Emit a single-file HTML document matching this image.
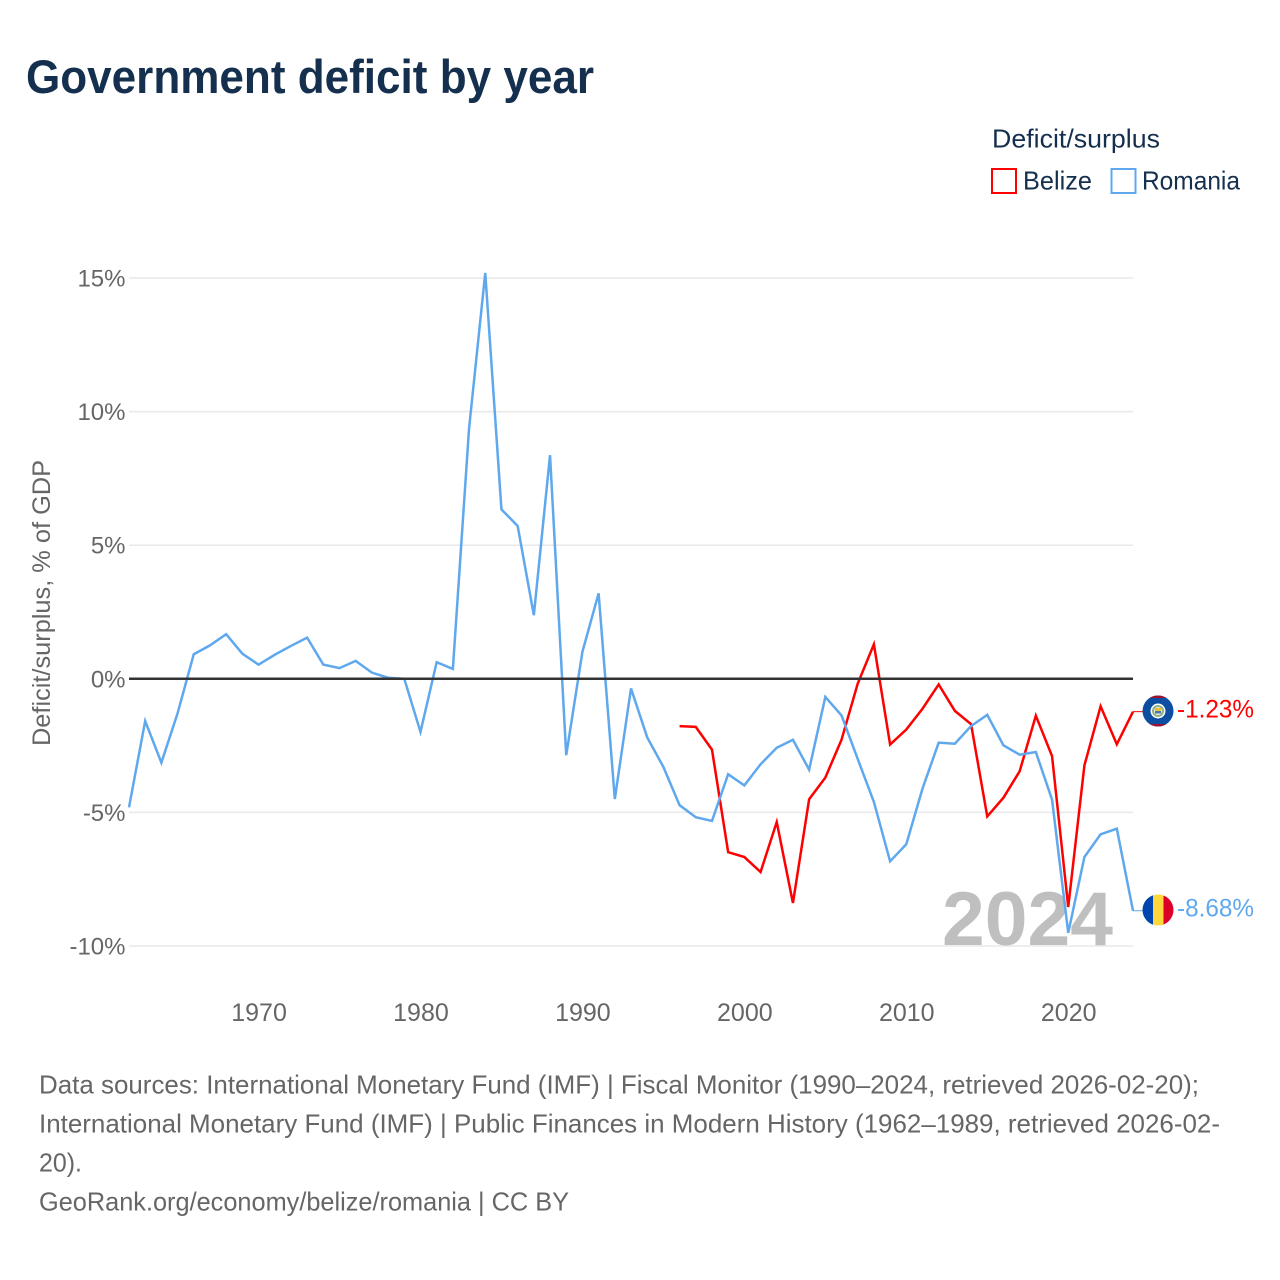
<!DOCTYPE html>
<html lang="en">
<head>
<meta charset="utf-8">
<title>Government deficit by year</title>
<style>
html,body{margin:0;padding:0;background:#fff;}
svg{display:block;font-family:"Liberation Sans",sans-serif;}
</style>
</head>
<body>
<svg id="chart" xmlns="http://www.w3.org/2000/svg" width="1280" height="1280" viewBox="0 0 1280 1280">
  <defs>
    <clipPath id="flag-clip-top"><circle cx="1158" cy="711" r="15.5"/></clipPath>
    <clipPath id="flag-clip-bottom"><circle cx="1158" cy="910" r="15.5"/></clipPath>
  </defs>
  <rect width="1280" height="1280" fill="#ffffff"/>
  <text x="26" y="93" font-size="47" font-weight="700" fill="#152f4e" textLength="568" lengthAdjust="spacingAndGlyphs">Government deficit by year</text>

  <g font-size="26" fill="#152f4e">
    <text x="992" y="147.5" textLength="168" lengthAdjust="spacingAndGlyphs">Deficit/surplus</text>
    <rect x="992" y="169" width="24" height="24" fill="#fff" stroke="#ff0000" stroke-width="2"/>
    <text x="1023" y="189.5" textLength="69" lengthAdjust="spacingAndGlyphs">Belize</text>
    <rect x="1111.5" y="169" width="24" height="24" fill="#fff" stroke="#5fa8ee" stroke-width="2"/>
    <text x="1142" y="189.5" textLength="98" lengthAdjust="spacingAndGlyphs">Romania</text>
  </g>

  <text transform="translate(50,603) rotate(-90)" text-anchor="middle" font-size="25" fill="#666666" textLength="286" lengthAdjust="spacingAndGlyphs">Deficit/surplus, % of GDP</text>

  <g id="grid"></g>
  <g id="yLabels" font-size="24" fill="#666666" text-anchor="end"></g>
  <g id="xLabels" font-size="25" fill="#666666" text-anchor="middle"></g>

  <text x="1113" y="945" text-anchor="end" font-size="76" font-weight="700" fill="#bfbfbf" textLength="171" lengthAdjust="spacingAndGlyphs">2024</text>

  <g id="series"></g>
  <g id="zero"></g>

  <g clip-path="url(#flag-clip-top)">
    <rect x="1142" y="695" width="32" height="32" fill="#0b4ea2"/>
    <rect x="1142" y="695" width="32" height="3" fill="#a3102f"/>
    <rect x="1142" y="724" width="32" height="3" fill="#a3102f"/>
    <circle cx="1158" cy="711" r="7.5" fill="#ffffff"/>
    <circle cx="1158" cy="711" r="6" fill="#8fae8c"/>
    <circle cx="1158" cy="711" r="4" fill="#f3f0d8"/>
    <rect x="1155" y="708" width="6" height="3" fill="#e8c23c"/>
    <rect x="1155" y="711" width="6" height="2.5" fill="#4a78a8"/>
  </g>
  <g clip-path="url(#flag-clip-bottom)">
    <rect x="1142" y="894" width="11" height="32" fill="#0046ae"/>
    <rect x="1153" y="894" width="10.5" height="32" fill="#ffd83d"/>
    <rect x="1163.5" y="894" width="11" height="32" fill="#dc0028"/>
  </g>
  <g id="endLabels" font-size="25"></g>

  <g font-size="26" fill="#666666">
    <text x="39" y="1093.5" textLength="1160" lengthAdjust="spacingAndGlyphs">Data sources: International Monetary Fund (IMF) | Fiscal Monitor (1990–2024, retrieved 2026-02-20);</text>
    <text x="39" y="1132.5" textLength="1181" lengthAdjust="spacingAndGlyphs">International Monetary Fund (IMF) | Public Finances in Modern History (1962–1989, retrieved 2026-02-</text>
    <text x="39" y="1171.5" textLength="43" lengthAdjust="spacingAndGlyphs">20).</text>
    <text x="39" y="1210.5" textLength="530" lengthAdjust="spacingAndGlyphs">GeoRank.org/economy/belize/romania | CC BY</text>
  </g>
</svg>
<script>
const romaniaStartYear = 1962;
const belizeStartYear = 1996;
const romaniaValues = [-4.81,-1.58,-3.14,-1.29,0.92,1.25,1.67,0.94,0.53,0.90,1.23,1.54,0.53,0.40,0.67,0.23,0.04,0.00,-1.99,0.62,0.37,9.37,15.19,6.34,5.72,2.38,8.37,-2.86,1.01,3.20,-4.50,-0.36,-2.19,-3.30,-4.73,-5.18,-5.32,-3.57,-3.99,-3.20,-2.58,-2.28,-3.40,-0.68,-1.37,-3.00,-4.61,-6.83,-6.19,-4.11,-2.39,-2.43,-1.77,-1.35,-2.49,-2.84,-2.74,-4.52,-9.51,-6.67,-5.82,-5.61,-8.68];
const belizeValues = [-1.77,-1.80,-2.65,-6.49,-6.67,-7.23,-5.36,-8.39,-4.51,-3.70,-2.28,-0.18,1.29,-2.46,-1.90,-1.12,-0.21,-1.20,-1.70,-5.15,-4.45,-3.46,-1.38,-2.89,-8.54,-3.24,-1.03,-2.45,-1.23];
const yTicks = [15,10,5,-5,-10];
const xTicks = [1970,1980,1990,2000,2010,2020];

const NS = 'http://www.w3.org/2000/svg';
const x = function (year) { return 129 + (year - 1962) * (1133 - 129) / 62; };
const y = function (value) { return 678.8 - value * 26.72; };
const make = function (tag, attrs, parent) {
  const el = document.createElementNS(NS, tag);
  Object.keys(attrs).forEach(function (k) { el.setAttribute(k, attrs[k]); });
  parent.appendChild(el);
  return el;
};

const grid = document.getElementById('grid');
const yLabels = document.getElementById('yLabels');
yTicks.forEach(function (t) {
  const line = make('line', {x1: 129, x2: 1133, y1: y(t), y2: y(t), stroke: '#e8e8e8', 'stroke-width': 1.5}, grid);
  
  
  const label = make('text', {x: 125.5, y: y(t) + 8.5}, yLabels);
  
  
  label.textContent = t + '%';
});
const zeroLabel = make('text', {x: 125.5, y: y(0) + 8.5}, yLabels);


zeroLabel.textContent = '0%';

const xLabels = document.getElementById('xLabels');
xTicks.forEach(function (t) {
  const label = make('text', {x: x(t) + 0.5, y: 1021}, xLabels);
  
  
  label.textContent = String(t);
});

const series = document.getElementById('series');
const drawSeries = function (values, startYear, color) {
  const d = values.map(function (v, i) {
    return (i ? 'L' : 'M') + x(startYear + i).toFixed(2) + ' ' + y(v).toFixed(2);
  }).join(' ');
  return make('path', {d: d, fill: 'none', stroke: color, 'stroke-width': 2.5, 'stroke-linejoin': 'miter'}, series);
};
const belizeLine = drawSeries(belizeValues, belizeStartYear, '#ff0000');


const romaniaLine = drawSeries(romaniaValues, romaniaStartYear, '#5fa8ee');



const belizeLast = belizeValues[belizeValues.length - 1];
const romaniaLast = romaniaValues[romaniaValues.length - 1];
const belizeConnector = make('line', {x1: 1133, x2: 1143, y1: y(belizeLast), y2: y(belizeLast), stroke: '#ff0000', 'stroke-width': 1}, series);


const romaniaConnector = make('line', {x1: 1133, x2: 1143, y1: y(romaniaLast), y2: y(romaniaLast), stroke: '#5fa8ee', 'stroke-width': 1}, series);



const zero = document.getElementById('zero');
const zeroLine = make('line', {x1: 129, x2: 1133, y1: y(0), y2: y(0), stroke: '#333333', 'stroke-width': 2.5}, zero);



const endLabels = document.getElementById('endLabels');
const belizeEnd = make('text', {x: 1177, y: y(belizeLast) + 6, fill: '#ff0000', textLength: 77, lengthAdjust: 'spacingAndGlyphs'}, endLabels);


belizeEnd.textContent = belizeLast.toFixed(2) + '%';
const romaniaEnd = make('text', {x: 1177, y: y(romaniaLast) + 6, fill: '#5fa8ee', textLength: 77, lengthAdjust: 'spacingAndGlyphs'}, endLabels);


romaniaEnd.textContent = romaniaLast.toFixed(2) + '%';
</script>
</body>
</html>
